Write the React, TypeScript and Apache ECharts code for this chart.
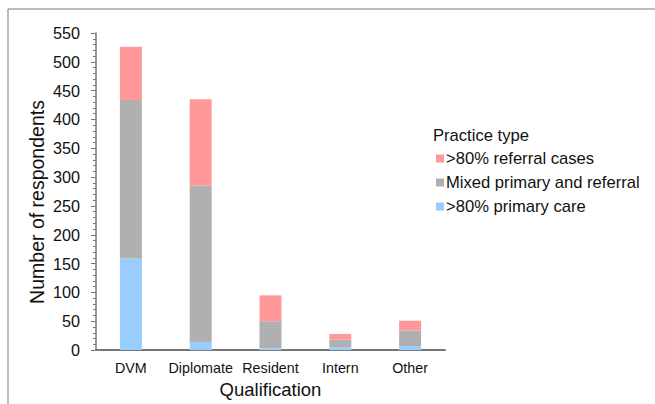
import React, { useEffect, useRef } from "react";
import * as echarts from "echarts";

const categories = ["DVM", "Diplomate", "Resident", "Intern", "Other"];
const primaryCare = [159, 14, 3, 5, 7];
const mixed = [275, 271, 47, 13, 27];
const referral = [92, 150, 45, 10, 17];
const seriesNames = [">80% referral cases", "Mixed primary and referral", ">80% primary care"];

const FONT = "Liberation Sans, Arial, sans-serif";

export default function App() {
  const ref = useRef<HTMLDivElement>(null);
  useEffect(() => {
    const chart = echarts.init(ref.current!, null, { renderer: "svg" });
    chart.setOption({
      animation: false,
      backgroundColor: "#fff",
      textStyle: { fontFamily: FONT },
      graphic: [
        {
          type: "rect",
          shape: { x: 8, y: 9, width: 720, height: 500 },
          style: { fill: "none", stroke: "#7a7a7a", lineWidth: 1 },
          silent: true,
        },
        {
          type: "text",
          left: 433,
          top: 127,
          style: { text: "Practice type", font: `16.6px ${FONT}`, fill: "#111" },
        },
        {
          type: "text",
          x: 37,
          y: 202,
          rotation: Math.PI / 2,
          style: {
            text: "Number of respondents",
            font: `19.5px ${FONT}`,
            fill: "#111",
            align: "center",
            verticalAlign: "middle",
          },
        },
      ],
      legend: {
        orient: "vertical",
        left: 431,
        top: 145,
        itemWidth: 8,
        itemHeight: 8,
        itemGap: 7,
        icon: "rect",
        data: seriesNames,
        textStyle: {
          fontSize: 16.6,
          lineHeight: 17,
          color: "#111",
          fontFamily: FONT,
          padding: [0, 0, 0, -3],
        },
      },
      grid: { left: 96, top: 33, width: 349, height: 319, containLabel: false },
      xAxis: {
        type: "category",
        data: categories,
        name: "Qualification",
        nameLocation: "middle",
        nameGap: 28,
        nameTextStyle: { fontSize: 18.5, color: "#111", fontFamily: FONT },
        axisLine: { lineStyle: { color: "#777", width: 2 } },
        axisTick: { show: false },
        axisLabel: { interval: 0, fontSize: 14.3, color: "#111", margin: 11, fontFamily: FONT },
      },
      yAxis: {
        type: "value",
        min: 0,
        max: 550,
        interval: 50,
        axisLine: { show: true, lineStyle: { color: "#777", width: 1.5 } },
        axisTick: { show: true, length: 5, lineStyle: { color: "#777" } },
        minorTick: { show: true, splitNumber: 5, length: 3, lineStyle: { color: "#777" } },
        splitLine: { show: false },
        axisLabel: { fontSize: 16.2, color: "#111", margin: 16, fontFamily: FONT },
      },
      series: [
        {
          name: seriesNames[2],
          type: "bar",
          stack: "total",
          data: primaryCare,
          barWidth: 22,
          itemStyle: { color: "#99ccff" },
        },
        {
          name: seriesNames[1],
          type: "bar",
          stack: "total",
          data: mixed,
          barWidth: 22,
          itemStyle: { color: "#b0b0b0" },
        },
        {
          name: seriesNames[0],
          type: "bar",
          stack: "total",
          data: referral,
          barWidth: 22,
          itemStyle: { color: "#ff9999" },
        },
      ],
    });
    return () => chart.dispose();
  }, []);
  return (
    <div
      ref={ref}
      style={{ position: "fixed", left: 0, top: 0, width: 655, height: 404 }}
    />
  );
}
